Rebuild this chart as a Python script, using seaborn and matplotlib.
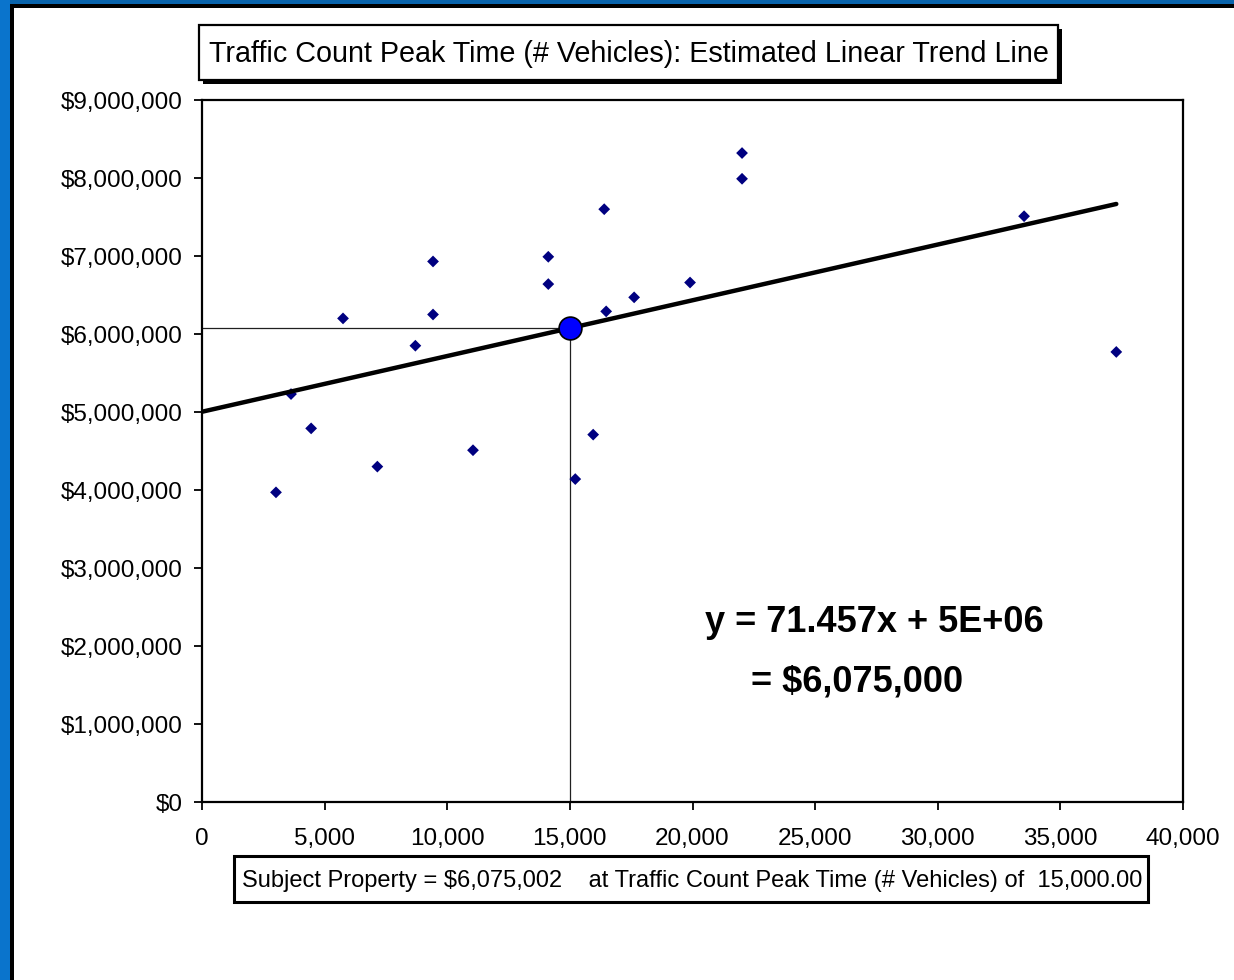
import matplotlib
matplotlib.use("Agg")
import matplotlib.pyplot as plt
from matplotlib.patches import Rectangle
from matplotlib.ticker import FuncFormatter
import pandas as pd
import seaborn as sns

# Comparable sales: traffic count at peak time vs. sale price
traffic_count = [3017, 3630, 4450, 5750, 7150, 8700, 9420, 9420, 11050, 14120,
                 14120, 15220, 15950, 16400, 16480, 17620, 19900, 22020, 22020,
                 33520, 37280]
sale_price = [3_970_000, 5_230_000, 4_790_000, 6_200_000, 4_300_000, 5_850_000,
              6_930_000, 6_250_000, 4_510_000, 6_990_000, 6_640_000, 4_140_000,
              4_710_000, 7_600_000, 6_290_000, 6_470_000, 6_660_000, 8_320_000,
              7_990_000, 7_510_000, 5_770_000]

slope = 71.457
subject_count = 15000
subject_value = 6_075_002
intercept = subject_value - slope * subject_count

x_ticks = [0, 5000, 10000, 15000, 20000, 25000, 30000, 35000, 40000]
y_ticks = [0, 1_000_000, 2_000_000, 3_000_000, 4_000_000, 5_000_000,
           6_000_000, 7_000_000, 8_000_000, 9_000_000]

title_text = "Traffic Count Peak Time (# Vehicles): Estimated Linear Trend Line"

sns.set_theme(style="white")
plt.rcParams["font.family"] = ["Liberation Sans", "DejaVu Sans"]

W, H = 1234, 980
fig = plt.figure(figsize=(W / 100, H / 100), dpi=100)
fig.patch.set_facecolor("white")


def fx(px):
    return px / W


def fy(py):
    return 1 - py / H


def box(x0, y0, x1, y1, **kw):
    fig.add_artist(Rectangle((fx(x0), fy(y1)), fx(x1) - fx(x0), fy(y0) - fy(y1),
                             transform=fig.transFigure, **kw))


# Window frame: blue border with a black inner rule
box(0, 0, W, 4, facecolor="#0a64ac", edgecolor="none")
box(0, 0, 10, H, facecolor="#0a74cc", edgecolor="none")
box(10, 4, W, 8, facecolor="black", edgecolor="none")
box(10, 4, 14, H, facecolor="black", edgecolor="none")

ax = fig.add_axes([fx(202), fy(802), fx(1183) - fx(202), fy(100) - fy(802)])
ax.set_facecolor("white")

df = pd.DataFrame({"count": traffic_count, "price": sale_price})

# Guide lines to the subject property
ax.plot([0, subject_count], [subject_value, subject_value], color="#202020", lw=0.9, zorder=2)
ax.plot([subject_count, subject_count], [0, subject_value], color="#202020", lw=0.9, zorder=2)

sns.scatterplot(data=df, x="count", y="price", marker="D", s=36, color="#000080",
                edgecolor="none", ax=ax, zorder=3, legend=False)

trend = pd.DataFrame({"count": [0, max(traffic_count)]})
trend["price"] = intercept + slope * trend["count"]
sns.lineplot(data=trend, x="count", y="price", color="black", lw=3.2, ax=ax, zorder=4,
             solid_capstyle="round")

sns.scatterplot(x=[subject_count], y=[subject_value], s=270, color="#0000ff",
                edgecolor="black", linewidth=1.2, ax=ax, zorder=5, legend=False)

ax.set_xlim(0, 40000)
ax.set_ylim(0, 9_000_000)
ax.set_xticks(x_ticks)
ax.set_yticks(y_ticks)
ax.xaxis.set_major_formatter(FuncFormatter(lambda v, p: f"{v:,.0f}"))
ax.yaxis.set_major_formatter(FuncFormatter(lambda v, p: f"${v:,.0f}"))
ax.set_xlabel("")
ax.set_ylabel("")
ax.grid(False)
for s in ax.spines.values():
    s.set_color("black")
    s.set_linewidth(1.6)
ax.tick_params(axis="both", which="major", direction="out", length=6, width=1.3,
               color="black", labelsize=17.5, labelcolor="black")
ax.tick_params(axis="x", pad=13)
ax.tick_params(axis="y", pad=8)
ax.xaxis.set_ticks_position("bottom")
ax.yaxis.set_ticks_position("left")

# Trend equation
ax.text(0.685, 0.255, f"y = {slope}x + 5E+06", transform=ax.transAxes, ha="center",
        va="center", fontsize=26, fontweight="bold", color="black")
ax.text(0.668, 0.171, f"= ${round(subject_value, -3):,.0f}", transform=ax.transAxes,
        ha="center", va="center", fontsize=26, fontweight="bold", color="black")

# Title box with drop shadow
box(203, 29, 1062, 84, facecolor="black", edgecolor="none")
box(199, 25, 1058, 80, facecolor="white", edgecolor="black", linewidth=1.6)
fig.text(fx(629), fy(54), title_text, ha="center", va="center", fontsize=20.7, color="black")

# Subject property summary box
box(234, 856, 1148, 902, facecolor="white", edgecolor="black", linewidth=2.2)
fig.text(fx(692), fy(881),
         f"Subject Property = ${subject_value:,.0f}    at Traffic Count Peak Time (# Vehicles) of  {subject_count:,.2f}",
         ha="center", va="center", fontsize=17, color="black")

fig.savefig("out.png", dpi=100)
